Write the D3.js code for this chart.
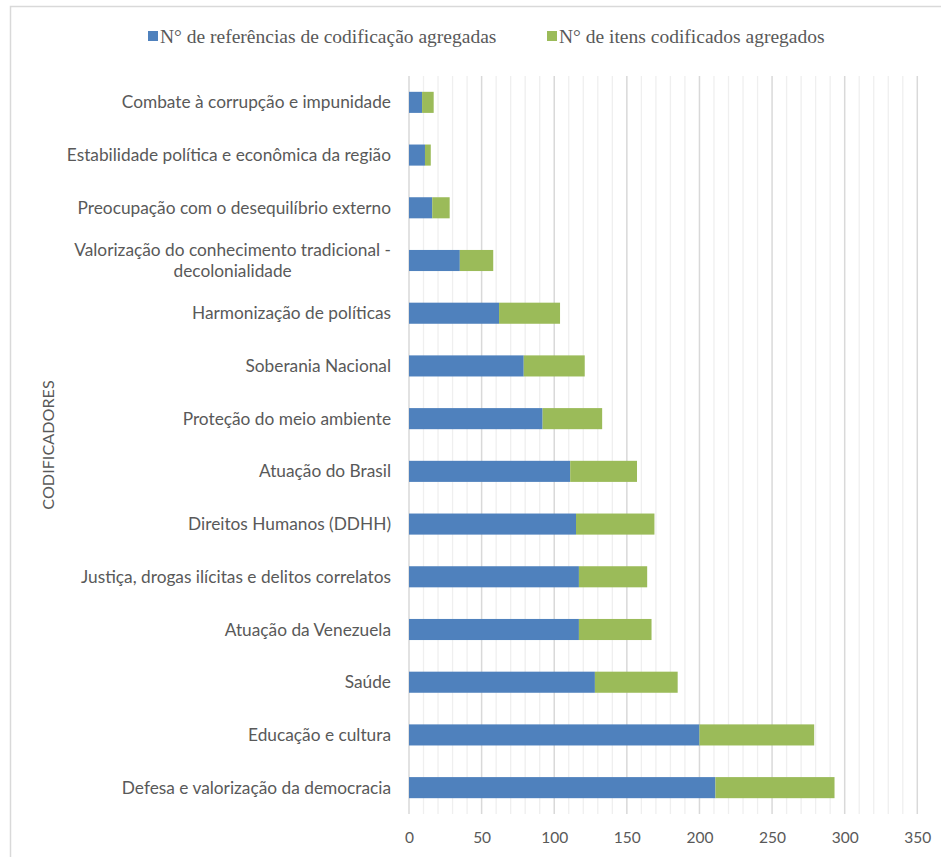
<!DOCTYPE html>
<html><head><meta charset="utf-8">
<script src="https://cdn.jsdelivr.net/npm/d3@7"></script>
<style>body{margin:0;background:#fff}svg{display:block}</style>
</head><body>
<script>
const categories = [
  "Combate à corrupção e impunidade",
  "Estabilidade política e econômica da região",
  "Preocupação com o desequilíbrio externo",
  "Valorização do conhecimento tradicional - decolonialidade",
  "Harmonização de políticas",
  "Soberania Nacional",
  "Proteção do meio ambiente",
  "Atuação do Brasil",
  "Direitos Humanos (DDHH)",
  "Justiça, drogas ilícitas e delitos correlatos",
  "Atuação da Venezuela",
  "Saúde",
  "Educação e cultura",
  "Defesa e valorização da democracia"
];
const referencias = [9, 11, 16, 35, 62, 79, 92, 111, 115, 117, 117, 128, 200, 211];
const itens = [8, 4, 12, 23, 42, 42, 41, 46, 54, 47, 50, 57, 79, 82];
const seriesNames = ["N° de referências de codificação agregadas", "N° de itens codificados agregados"];
const seriesColors = ["#4f81bd", "#9bbb59"];
const xTicks = [0, 50, 100, 150, 200, 250, 300, 350];
const yTitle = "CODIFICADORES";

const W = 941, H = 857;
const svg = d3.select("body").append("svg").attr("width", W).attr("height", H);
svg.append("rect").attr("x", 10.5).attr("y", 6.5).attr("width", 940).attr("height", 860)
  .attr("fill", "#fff").attr("stroke", "#d9d9d9").attr("stroke-width", 1.5);

const x = d3.scaleLinear().domain([0, 350]).range([409, 917.3]);
const y = d3.scaleBand().domain(categories).range([76, 814]).paddingInner(0.6).paddingOuter(0.3);

const sansFont = "Lato, 'Open Sans', sans-serif";
const textCol = "#595959";

// minor grid
svg.append("g").selectAll("line").data(d3.range(0, 351, 10).filter(v => v % 50 !== 0)).join("line")
  .attr("x1", d => x(d)).attr("x2", d => x(d)).attr("y1", 76).attr("y2", 814)
  .attr("stroke", "#efefef").attr("stroke-width", 1.3);
// major grid
svg.append("g").selectAll("line").data(xTicks).join("line")
  .attr("x1", d => x(d)).attr("x2", d => x(d)).attr("y1", 76).attr("y2", 814)
  .attr("stroke", "#d9d9d9").attr("stroke-width", 1.5);

// bars
const rows = categories.map((c, i) => ({c, a: referencias[i], b: itens[i]}));
const gBars = svg.append("g");
gBars.selectAll("rect.a").data(rows).join("rect").attr("class", "a")
  .attr("x", x(0)).attr("y", d => y(d.c)).attr("height", y.bandwidth())
  .attr("width", d => x(d.a) - x(0)).attr("fill", seriesColors[0]);
gBars.selectAll("rect.b").data(rows).join("rect").attr("class", "b")
  .attr("x", d => x(d.a)).attr("y", d => y(d.c)).attr("height", y.bandwidth())
  .attr("width", d => x(d.a + d.b) - x(d.a)).attr("fill", seriesColors[1]);

// x axis labels
const xAxis = d3.axisBottom(x).tickValues(xTicks).tickSize(0).tickPadding(0);
const gx = svg.append("g").attr("transform", "translate(0,838)").call(xAxis);
gx.select(".domain").remove();
gx.selectAll("text").attr("fill", textCol).attr("font-family", sansFont).attr("font-size", 15.5)
  .attr("dy", "0.35em");

// y labels
const labelRight = 391;
const labelSize = 17.3;
const gy = svg.append("g");
categories.forEach(c => {
  const cy = y(c) + y.bandwidth() / 2;
  const parts = c.includes(" - ") ? [c.split(" - ")[0] + " -", c.split(" - ")[1]] : [c];
  if (parts.length === 1) {
    gy.append("text").attr("x", labelRight).attr("y", cy).attr("dy", "0.35em")
      .attr("text-anchor", "end").attr("fill", textCol).attr("font-family", sansFont)
      .attr("font-size", labelSize).text(c);
  } else {
    const t = gy.append("text").attr("text-anchor", "middle").attr("fill", textCol)
      .attr("font-family", sansFont).attr("font-size", labelSize);
    const spans = parts.map((p, k) => t.append("tspan").attr("y", cy + (k - 0.5) * 21).attr("dy", "0.35em").text(p));
    const wmax = d3.max(spans.map(s => s.node().getComputedTextLength()));
    spans.forEach(s => s.attr("x", labelRight - wmax / 2));
  }
});

// y title
svg.append("text").attr("transform", `translate(48,${(76 + 814) / 2}) rotate(-90)`)
  .attr("text-anchor", "middle").attr("fill", textCol).attr("font-family", sansFont)
  .attr("font-size", 16.2).attr("y", 0).attr("dy", "0.35em").text(yTitle);

// legend
const serif = "'Liberation Serif', 'DejaVu Serif', serif";
const legX = [148, 547];
seriesNames.forEach((n, i) => {
  const g = svg.append("g").attr("transform", `translate(${legX[i]},36)`);
  g.append("rect").attr("x", 0).attr("y", -5).attr("width", 10).attr("height", 10).attr("fill", seriesColors[i]);
  g.append("text").attr("x", 12).attr("y", 0).attr("dy", "0.35em").attr("fill", textCol)
    .attr("font-family", serif).attr("font-size", 19.5).text(n);
});
</script>
</body></html>
